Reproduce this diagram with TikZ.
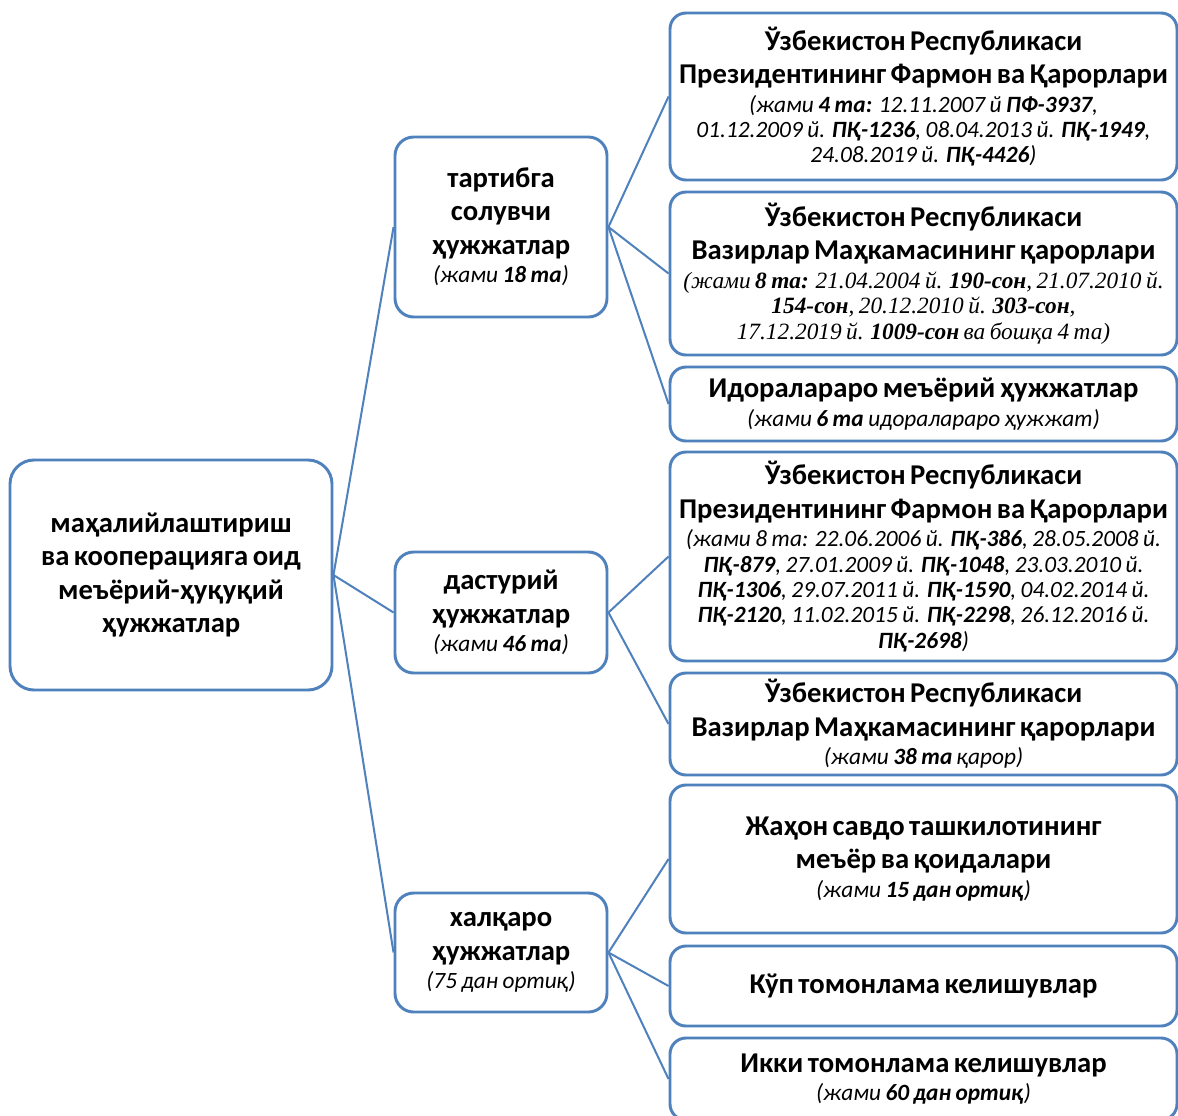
\documentclass[tikz,border=0pt]{standalone}
\usepackage{fontspec}
\setmainfont{Carlito}
\newfontfamily\timesfont{Liberation Serif}
\usepackage{tikz}
\usetikzlibrary{positioning}
\definecolor{frameblue}{RGB}{79,129,189}
\newcommand\boxhead{\bfseries\fontsize{21.5}{25}\selectfont}
\newcommand\boxnote{\par\vspace{2.5pt}\mdseries\itshape\fontsize{17.5}{19}\selectfont}
\tikzset{
box/.style={draw=frameblue, line width=2.2pt, rounded corners=14pt, fill=white,
  align=center, inner sep=0pt},
root/.style={box, rounded corners=18pt, text width=241.5pt, minimum height=172.5pt},
group/.style={box, text width=159pt},
doc/.style={box, rounded corners=12pt, text width=380.25pt},
link/.style={draw=frameblue, line width=1.5pt},
}
\begin{document}
\begin{tikzpicture}[x=0.75pt,y=-0.75pt]
\useasboundingbox[fill=white] (0,0) rectangle (1178,1115);
\node[root] (root) at (171,575) {\boxhead маҳалийлаштириш\\ва кооперацияга оид\\меъёрий-ҳуқуқий\\ҳужжатлар\par};

\node[group, minimum height=135pt] (m1) at (501,227) {\boxhead тартибга\\солувчи\\ҳужжатлар
  \boxnote (жами \textbf{18 та})\par};
\node[group, minimum height=90.75pt] (m2) at (501,612.5) {\boxhead дастурий\\ҳужжатлар
  \boxnote (жами \textbf{46 та})\par};
\node[group, minimum height=89.25pt] (m3) at (501,952.5) {\boxhead халқаро\\ҳужжатлар
  \boxnote (75 дан ортиқ)\par};

\node[doc, minimum height=125.25pt] (l1) at (923.5,96.5) {\boxhead Ўзбекистон Республикаси\\Президентининг Фармон ва Қарорлари
  \boxnote (жами \textbf{4 та:} 12.11.2007 й \textbf{ПФ-3937},\\01.12.2009 й. \textbf{ПҚ-1236}, 08.04.2013 й. \textbf{ПҚ-1949},\\24.08.2019 й. \textbf{ПҚ-4426})\par};
\node[doc, minimum height=122.25pt] (l2) at (923.5,273.5) {\boxhead Ўзбекистон Республикаси\\Вазирлар Маҳкамасининг қарорлари
  \boxnote\timesfont (жами \textbf{8 та:} 21.04.2004 й. \textbf{190-сон}, 21.07.2010 й.\\\textbf{154-сон}, 20.12.2010 й. \textbf{303-сон},\\17.12.2019 й. \textbf{1009-сон} ва бошқа 4 та)\par};
\node[doc, minimum height=55.5pt] (l3) at (923.5,404) {\boxhead Идоралараро меъёрий ҳужжатлар
  \boxnote (жами \textbf{6 та} идоралараро ҳужжат)\par};
\node[doc, minimum height=156.75pt] (l4) at (923.5,556.5) {\boxhead Ўзбекистон Республикаси\\Президентининг Фармон ва Қарорлари
  \boxnote (жами 8 та: 22.06.2006 й. \textbf{ПҚ-386}, 28.05.2008 й.\\\textbf{ПҚ-879}, 27.01.2009 й. \textbf{ПҚ-1048}, 23.03.2010 й.\\\textbf{ПҚ-1306}, 29.07.2011 й. \textbf{ПҚ-1590}, 04.02.2014 й.\\\textbf{ПҚ-2120}, 11.02.2015 й. \textbf{ПҚ-2298}, 26.12.2016 й.\\\textbf{ПҚ-2698})\par};
\node[doc, minimum height=76.5pt] (l5) at (923.5,724) {\boxhead Ўзбекистон Республикаси\\Вазирлар Маҳкамасининг қарорлари
  \boxnote (жами \textbf{38 та} қарор)\par};
\node[doc, minimum height=111pt] (l6) at (923.5,859) {\boxhead Жаҳон савдо ташкилотининг\\меъёр ва қоидалари
  \boxnote (жами \textbf{15 дан ортиқ})\par};
\node[doc, minimum height=60pt] (l7) at (923.5,986) {\boxhead Кўп томонлама келишувлар\par};
\node[doc, minimum height=61.5pt] (l8) at (923.5,1079) {\boxhead Икки томонлама келишувлар
  \boxnote (жами \textbf{60 дан ортиқ})\par};

\draw[link] (root.east) -- (m1.west);
\draw[link] (root.east) -- (m2.west);
\draw[link] (root.east) -- (m3.west);
\draw[link] (m1.east) -- (l1.west);
\draw[link] (m1.east) -- (l2.west);
\draw[link] (m1.east) -- (l3.west);
\draw[link] (m2.east) -- (l4.west);
\draw[link] (m2.east) -- (l5.west);
\draw[link] (m3.east) -- (l6.west);
\draw[link] (m3.east) -- (l7.west);
\draw[link] (m3.east) -- (l8.west);
\end{tikzpicture}
\end{document}
